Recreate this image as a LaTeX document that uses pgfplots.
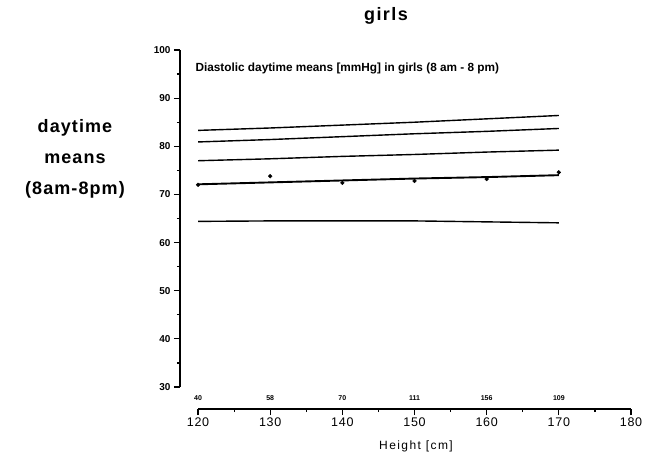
\documentclass[border=0pt]{standalone}
\usepackage{pgfplots}
\pgfplotsset{compat=1.18}
\usepackage{fontspec}
\setmainfont{Liberation Sans}
\begin{document}
\begin{tikzpicture}
\begin{axis}[
  name=ax, at={(0,0)}, anchor=south west,
  scale only axis, width=451pt, height=359pt,
  xmin=117.5, xmax=180, ymin=25.43, ymax=100,
  axis lines=left, axis line style={draw=none,-},
  xtick={120,130,...,180}, ytick={30,40,...,100},
  minor xtick={125,135,...,175}, minor ytick={35,45,...,95},
  tick align=outside, major tick length=6pt, minor tick length=3pt,
  tick style={black, line width=1.2pt},
  /pgf/number format/assume math mode=true,
  /pgf/number format/1000 sep={},
  x tick label style={font=\fontsize{12.5}{12}\selectfont\addfontfeature{LetterSpace=6}, yshift=1pt},
  y tick label style={font=\bfseries\fontsize{10}{10}\selectfont},
  clip=false,
]
% percentile curves
\addplot[black, line width=1.4pt] coordinates {
  (120,83.3) (130,83.8) (140,84.4) (150,85.0) (160,85.7) (170,86.4)
};
\addplot[black, line width=1.4pt] coordinates {
  (120,80.9) (130,81.4) (140,82.0) (150,82.6) (160,83.1) (170,83.7)
};
\addplot[black, line width=1.4pt] coordinates {
  (120,77.0) (130,77.4) (140,77.9) (150,78.3) (160,78.8) (170,79.2)
};
\addplot[black, line width=1.9pt] coordinates {
  (120,72.1) (130,72.5) (140,72.9) (150,73.3) (160,73.6) (170,74.0)
};
\addplot[black, line width=1.4pt] coordinates {
  (120,64.4) (130,64.5) (140,64.5) (150,64.5) (160,64.3) (170,64.1)
};
% observed means
\addplot[only marks, mark=*, mark size=1.9pt, black] coordinates {
  (120,72.0) (130,73.8) (140,72.4) (150,72.8) (160,73.2) (170,74.6)
};
% detached axis lines
\draw[line width=1.3pt] (axis cs:117.5,30) -- (axis cs:117.5,100);
\draw[line width=1.3pt] (axis cs:120,25.43) -- (axis cs:180,25.43);
% sample sizes
\node[font=\bfseries\fontsize{7}{7}\selectfont] at (axis cs:120,27.6) {40};
\node[font=\bfseries\fontsize{7}{7}\selectfont] at (axis cs:130,27.6) {58};
\node[font=\bfseries\fontsize{7}{7}\selectfont] at (axis cs:140,27.6) {70};
\node[font=\bfseries\fontsize{7}{7}\selectfont] at (axis cs:150,27.6) {111};
\node[font=\bfseries\fontsize{7}{7}\selectfont] at (axis cs:160,27.6) {156};
\node[font=\bfseries\fontsize{7}{7}\selectfont] at (axis cs:170,27.6) {109};
\end{axis}
\node[anchor=west, font=\bfseries\fontsize{11.8}{12}\selectfont] at (12pt,341pt)
  {Diastolic daytime means [mmHg] in girls (8 am - 8 pm)};
\node[font=\bfseries\fontsize{18}{18}\selectfont\addfontfeature{LetterSpace=8}] at (206pt,393pt) {girls};
\node[align=center, font=\bfseries\fontsize{18}{31}\selectfont\addfontfeature{LetterSpace=6}] at (-105pt,250pt)
  {daytime\\means\\(8am-8pm)};
\node[font=\fontsize{12}{12}\selectfont\addfontfeature{LetterSpace=12}] at (236pt,-37pt) {Height [cm]};
\path (-180pt,-50pt) rectangle (466pt,409pt);
\end{tikzpicture}
\end{document}
